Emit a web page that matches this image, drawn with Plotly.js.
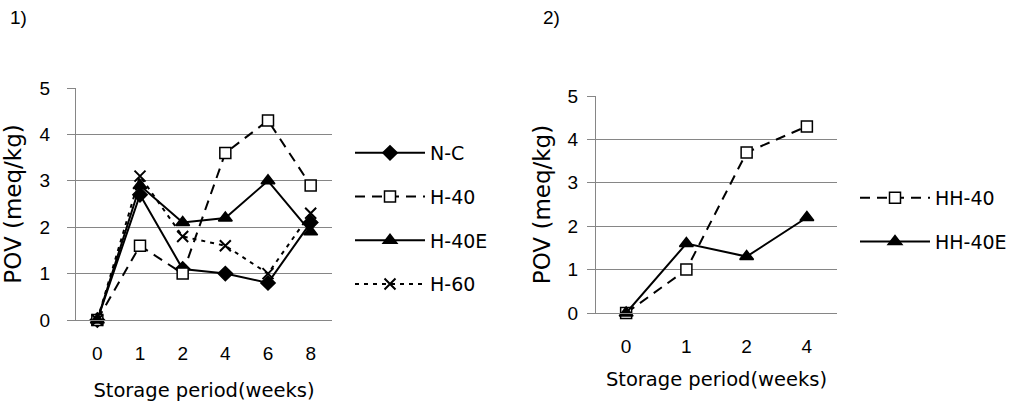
<!DOCTYPE html>
<html>
<head>
<meta charset="utf-8">
<script src="https://cdn.plot.ly/plotly-3.0.1.min.js"></script>
<style>html,body{margin:0;padding:0;background:#fff;}#chart{width:1014px;height:403px;}</style>
</head>
<body>
<div id="chart"></div>
<script>
// Chart 1 data
const weeks1 = ['0', '1', '2', '4', '6', '8'];
const nc   = [0, 2.7, 1.1, 1.0, 0.8, 2.1];
const h40  = [0, 1.6, 1.0, 3.6, 4.3, 2.9];
const h40e = [0, 2.9, 2.1, 2.2, 3.0, 1.9];
const h60  = [0, 3.1, 1.8, 1.6, 1.0, 2.3];
// Chart 2 data
const weeks2 = ['0', '1', '2', '4'];
const hh40  = [0, 1.0, 3.7, 4.3];
const hh40e = [0, 1.6, 1.3, 2.2];

const DJ = '"DejaVu Sans", sans-serif';
const AR = '"Liberation Sans", Arial, sans-serif';
const GRID = '#868686';

function tr(name, x, y, dash, symbol, size, fillWhite, xa, ya, leg, grp) {
  return {
    type: 'scatter', mode: 'lines+markers', name: name, x: x, y: y,
    xaxis: xa, yaxis: ya, legend: leg, legendgroup: grp,
    line: {color: '#000', width: 2, dash: dash},
    marker: {symbol: symbol, size: size, color: fillWhite ? '#fff' : '#000',
             line: {color: '#000', width: symbol.indexOf('x') === 0 ? 2 : 1.5}},
    cliponaxis: false
  };
}

const data = [
  tr('N-C', weeks1, nc, 'solid', 'diamond', 11, false, 'x', 'y', 'legend', 'a'),
  tr('H-40', weeks1, h40, '10px,7px', 'square', 11, true, 'x', 'y', 'legend', 'b'),
  tr('H-40E', weeks1, h40e, 'solid', 'triangle-up', 12, false, 'x', 'y', 'legend', 'c'),
  tr('H-60', weeks1, h60, '4px,5px', 'x-thin-open', 11, false, 'x', 'y', 'legend', 'd'),
  tr('HH-40', weeks2, hh40, '10px,7px', 'square', 11, true, 'x2', 'y2', 'legend2', 'e'),
  tr('HH-40E', weeks2, hh40e, 'solid', 'triangle-up', 12, false, 'x2', 'y2', 'legend2', 'f')
];

function xax(domain, n, anchor, standoff) {
  return {
    domain: domain, anchor: anchor, type: 'category', range: [-0.5, n - 0.5],
    showgrid: false, zeroline: false, showline: true, linecolor: GRID, linewidth: 1,
    ticks: '', tickfont: {family: AR, size: 19, color: '#000'}, ticklabelstandoff: 16,
    title: {text: 'Storage period(weeks)', font: {family: DJ, size: 19.5, color: '#000'}, standoff: standoff},
    fixedrange: true
  };
}
function yax(domain, anchor, lstand, tstand) {
  return {
    domain: domain, anchor: anchor, range: [0, 5], dtick: 1, tick0: 0,
    showgrid: true, gridcolor: GRID, gridwidth: 1, zeroline: false,
    showline: true, linecolor: GRID, linewidth: 1,
    ticks: 'outside', ticklen: 8, tickcolor: GRID, tickwidth: 1,
    tickfont: {family: AR, size: 19, color: '#000'}, ticklabelstandoff: lstand,
    title: {text: 'POV (meq/kg)', font: {family: DJ, size: 23, color: '#000'}, standoff: tstand},
    fixedrange: true
  };
}

const layout = {
  width: 1014, height: 403,
  margin: {l: 0, r: 0, t: 0, b: 0},
  paper_bgcolor: '#fff', plot_bgcolor: '#fff',
  showlegend: true,
  xaxis: xax([76 / 1014, 332 / 1014], weeks1.length, 'y', 20),
  yaxis: yax([1 - 320 / 403, 1 - 88 / 403], 'x', 13, 21),
  xaxis2: xax([596 / 1014, 837 / 1014], weeks2.length, 'y2', 16),
  yaxis2: yax([1 - 313 / 403, 1 - 96 / 403], 'x2', 5, 10),
  legend: {x: 350 / 1014, xanchor: 'left', y: 1 - 134 / 403, yanchor: 'top',
           font: {family: DJ, size: 19, color: '#000'}, tracegroupgap: 16,
           itemwidth: 70, bgcolor: 'rgba(0,0,0,0)', borderwidth: 0},
  legend2: {x: 855 / 1014, xanchor: 'left', y: 1 - 179 / 403, yanchor: 'top',
            font: {family: DJ, size: 19, color: '#000'}, tracegroupgap: 16,
            itemwidth: 70, bgcolor: 'rgba(0,0,0,0)', borderwidth: 0},
  annotations: [
    {text: '1)', xref: 'paper', yref: 'paper', x: 8 / 1014, y: 1 - 18 / 403,
     xanchor: 'left', yanchor: 'middle', showarrow: false, font: {family: AR, size: 19, color: '#000'}},
    {text: '2)', xref: 'paper', yref: 'paper', x: 541 / 1014, y: 1 - 18 / 403,
     xanchor: 'left', yanchor: 'middle', showarrow: false, font: {family: AR, size: 19, color: '#000'}}
  ]
};

Plotly.newPlot('chart', data, layout, {displayModeBar: false, staticPlot: true});
</script>
</body>
</html>
